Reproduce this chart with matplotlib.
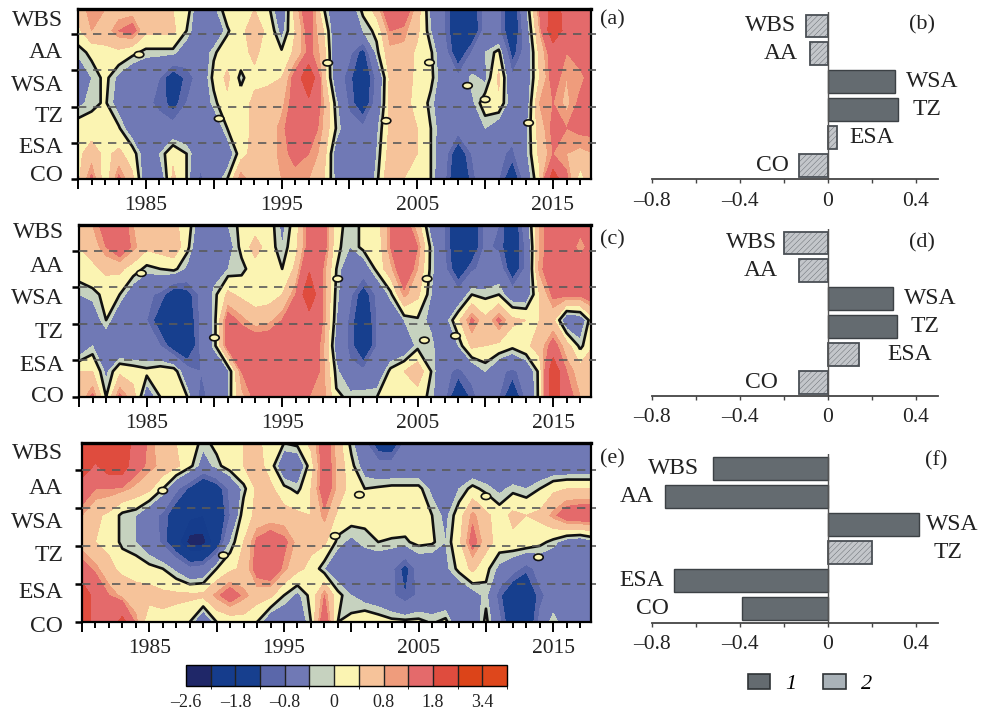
import matplotlib
matplotlib.use('Agg')
import matplotlib.pyplot as plt
import numpy as np
from matplotlib.colors import ListedColormap, BoundaryNorm
from matplotlib.patches import Ellipse, Patch

plt.rcParams['font.family'] = ['Liberation Serif', 'DejaVu Serif']
plt.rcParams['hatch.linewidth'] = 0.25

W, H = 982, 711

years = np.arange(1980, 2019)
row_y = [0, 0.7, 1.4, 2.1, 2.8, 3.5, 4.1, 4.7]
regions = ['WBS', 'AA', 'WSA', 'TZ', 'ESA', 'CO']

levels = [-2.6, -2.2, -1.8, -1.1, -0.8, -0.2, 0, 0.4, 0.8, 1.0, 1.8, 2.6, 3.4, 4.2]
level_colors = ['#1f2768', '#153c8c', '#173f8e', '#5a67aa', '#7079b5', '#c6d2bf', '#fbf4b2',
                '#f6c39a', '#ef9c7c', '#e46a6b', '#df4c3e', '#dc4419', '#de471c']
cbar_ticks = [-2.6, -1.8, -0.8, 0, 0.8, 1.8, 3.4]
cbar_labels = ['\u20132.6', '\u20131.8', '\u20130.8', '0', '0.8', '1.8', '3.4']

# rows go from CO (bottom) to the top of the panel
grid_a = [
    [.3,1.1,.1,1.1,.5,-.5,-.6,.5,0,-.9,-.5,0,1.0,.5,.6,.8,.9,.8,.5,-.3,-.3,-.7,-.1,.8,.4,.2,0,-.7,-1.7,-1.0,-.3,-.8,-1.6,-.5,.3,2.3,1.1,.2,.8],
    [.3,.6,.3,.5,.2,-.5,-.2,.3,0,-.6,-.6,-.5,.2,.6,.6,.9,1.1,1.0,.7,-.4,-.6,-.6,-.2,.6,.6,.4,0,-.6,-1.5,-.8,-.3,-.7,-.9,-.3,.5,1.0,.8,.7,.8],
    [.2,.2,.2,.05,-.5,-.6,-.6,-.6,-.6,-.6,-.6,0,.2,.5,.6,.9,1.3,1.4,.8,0,-.6,-.7,-.3,.5,.6,.4,0,-.5,-.6,-.5,-.2,-.5,-.6,-.3,.6,1.1,1.0,1.1,1.1],
    [-.3,-.1,.05,-.4,-.6,-.7,-.9,-1.3,-.8,-.6,-.1,.3,.2,.5,.6,.7,1.2,1.6,.9,-.1,-.9,-1.5,-.6,.5,.5,.3,-.1,-.6,-.6,-.3,.2,.3,-.5,-.5,.8,1.0,.7,1.1,1.2],
    [-.5,-.2,.1,-.3,-.6,-.6,-.8,-1.5,-1.0,-.6,.1,.5,-.1,.3,.3,.4,1.2,2.6,.7,-.5,-1.0,-1.6,-.7,.5,.6,.3,.1,-.5,-.7,-.1,-.3,.5,-.7,-.5,.4,1.2,.8,.9,1.2],
    [-.15,.1,.3,.3,.1,-.1,-.1,-.1,-.5,-.6,-.05,.2,.25,.5,.2,.05,.5,1.1,.7,-.6,-.7,-1.3,-.1,.7,.7,.3,.05,-.6,-1.5,-.8,-.2,.1,-1.3,-.6,.5,1.3,1.0,1.2,1.2],
    [.3,.8,.6,1.0,1.2,.5,.5,.5,0,-.6,-.7,-.05,.3,.6,.3,-.35,.4,1.2,.5,-.6,-.6,-.2,.1,1.0,.9,.5,-.2,-.8,-1.6,-1.6,-.6,-.7,-1.6,-.5,.8,2.4,1.5,1.0,1.2],
    [.5,1.0,.8,.6,.6,.6,.5,.4,.2,-.6,-.3,.2,.2,.4,.1,-.6,.6,1.4,.1,-.6,-.5,.1,.6,1.5,1.4,.6,-.3,-.8,-1.6,-1.5,-.6,-.7,-1.6,-.3,1.0,2.2,1.5,1.4,1.4],
]
grid_c = [
    [.5,1.1,0,1.1,.6,-.5,0,.2,0,-1.0,-.5,-.2,.7,1.1,1.0,1.1,1.2,1.0,1.0,.05,-.05,-.03,0,.2,.4,.2,-.1,-.7,-1.7,-1.0,-.4,-.8,-1.6,-.7,.1,2.4,1.2,.8,.8],
    [.4,.4,-.3,.3,.2,.1,.2,.2,-.6,-.8,-.7,-.3,1.0,1.3,1.3,1.4,1.4,1.3,.9,-.1,-.7,-.7,-.6,.1,.4,.7,0,-.7,-.9,-.6,-.2,-.7,-.9,-.6,.1,2.5,1.0,.6,.5],
    [-.6,-.2,-.6,-.7,-.7,-.7,-.8,-1.4,-1.7,-.7,-.1,1.2,1.4,1.4,1.4,1.5,1.4,1.3,.9,-.4,-.9,-1.7,-.8,-.7,-.6,-.1,-.1,-.6,-.2,.5,.4,.3,.1,.3,.6,1.2,.6,-.1,.4],
    [-.7,-.5,0,-.6,-.7,-.8,-1.4,-1.8,-1.5,-.7,-.1,1.2,.9,.6,.7,1.0,1.3,1.4,1.0,-.2,-.9,-1.6,-.8,-.6,-.2,-.05,-.3,-.4,.3,1.1,.5,1.1,.5,.4,.4,.5,-.6,-.5,.3],
    [-.2,-.1,.1,0,-.5,-.7,-.9,-1.5,-1.3,-.7,-.1,.5,.3,.2,.2,.4,1.0,2.5,1.0,-.1,-.7,-1.4,-.7,-.1,.9,.5,-.2,-.7,-.6,0,-.1,0,-.5,-.5,.4,1.1,1.1,1.1,1.3],
    [.2,.3,.5,.5,.2,-.1,0,.1,-.3,-.6,-.4,-.2,-.1,.2,.3,0,.5,1.7,1.0,0,-.6,-.5,.1,.7,1.4,.8,-.1,-.7,-1.5,-.9,-.6,-.5,-1.5,-.7,.9,1.3,1.3,1.4,1.3],
    [.4,.6,1.0,1.4,.9,.5,.6,.7,.1,-.7,-.6,-.4,.1,.6,.2,-.2,.3,1.2,1.3,.1,-.2,.1,.1,1.0,1.4,1.0,-.1,-.8,-1.6,-1.5,-.7,-.9,-1.6,-.7,.8,1.3,1.4,.8,1.3],
    [.5,.8,1.2,1.3,.8,.6,.6,.5,.2,-.5,-.6,-.2,.1,.2,.2,-.3,.2,1.2,1.3,.2,-.2,.1,.2,1.0,1.3,.6,-.4,-.8,-1.6,-1.5,-.7,-.8,-1.6,-.5,.8,1.3,1.3,1.2,1.2],
]
grid_e = [
    [2.4,1.4,1.2,2.1,.9,.05,.3,.2,0,-.7,0,.1,.2,0,-.6,-.6,-.6,0,1.4,0,.1,.3,.2,.1,.1,.1,-.05,.1,-.6,-.6,.1,-.7,-1.6,-1.6,-.7,0,-.6,-.6,-.6],
    [2.4,1.5,1.0,.7,.6,.6,.5,.5,.5,.5,.9,1.3,.9,.6,.5,0,-.3,.1,1.0,.1,-.2,-.4,-.5,-.7,-1.1,-.7,-.6,-.6,-.6,-.4,-.1,-1.0,-1.7,-1.8,-.9,-.6,-.6,-.6,-.6],
    [1.2,.9,.5,.3,.2,.1,0,-.3,-.7,-.6,0,.3,.5,1.2,1.4,.9,.5,.3,-.2,-.5,-.6,-.6,-.6,-.7,-1.3,-.6,-.6,-.3,.1,.5,.1,-.3,-.6,-1.0,-.6,-.6,-.6,-.6,-.6],
    [.6,.4,.3,-.1,-.2,-.5,-.9,-1.6,-2.4,-2.4,-1.5,-.2,.4,1.1,1.3,1.1,.7,.5,.5,-.1,-.3,-.1,0,-.05,-.05,.1,.05,-.2,.3,1.2,.6,.2,.3,.3,.1,-.1,-.4,-.5,-.3],
    [.8,.5,.3,-.1,-.2,-.6,-.9,-1.5,-1.7,-1.8,-1.6,-.8,.2,.5,.6,.6,.5,.4,.9,.3,.2,.1,.2,.3,.2,.4,0,-.3,.2,.9,.5,.2,.5,.4,.5,.9,1.3,1.4,1.4],
    [1.3,1.0,1.0,.9,.7,.5,0,-.7,-1.2,-1.7,-1.4,-.7,-.1,.5,.5,.1,-.1,.4,1.3,.7,.2,0,.05,.1,.1,.1,-.3,-.6,-.2,.1,-.1,-.3,-.1,-.2,0,.3,.4,.4,.4],
    [2.3,1.7,2.3,2.3,1.2,.9,.7,.5,.1,-.4,-.1,.2,.4,.6,.2,-.6,-.6,.2,1.3,.7,.1,-.4,-.6,-.6,-.6,-.6,-.6,-.6,-.6,-.6,-.6,-.6,-.7,-.6,-.6,-.6,-.6,-.6,-.6],
    [2.4,2.4,2.3,2.4,1.4,.9,.6,.4,.2,-.1,.1,.2,.4,.5,.2,0,.1,.5,1.3,.6,-.1,-.7,-1.4,-1.5,-.7,-.6,-.6,-.6,-.6,-.6,-.6,-.6,-.6,-.6,-.6,-.6,-.6,-.5,-.1],
]

# zero-contour label ovals
ovals_a = [(1984.5,3.44),(1998.4,3.21),(2005.9,3.22),(2008.7,2.58),(2010,2.2),(1990.4,1.67),(2002.7,1.61),(2013.2,1.55)]
ovals_c = [(1984.6,3.38),(1999.1,3.23),(2005.7,3.23),(1990,1.62),(2005.5,1.55),(2007.8,1.67)]
ovals_e = [(1986,3.45),(2000.6,3.34),(2010,3.3),(1998.8,2.26),(1990.5,1.75),(2013.9,1.7)]

# bar values, same order as regions; kind 1 = significant, 2 = not
bars_b = [-0.10, -0.08, 0.305, 0.32, 0.04, -0.13]
kind_b = [2, 2, 1, 1, 2, 2]
gaps_b = [10, 12, 11, 14, 13, 10]
bars_d = [-0.20, -0.13, 0.295, 0.315, 0.14, -0.13]
kind_d = [2, 2, 1, 1, 2, 2]
gaps_d = [7, 21, 11, 14, 29, 21]
bars_f = [-0.52, -0.74, 0.415, 0.20, -0.70, -0.39]
kind_f = [1, 1, 1, 2, 1, 1]
gaps_f = [14, 11, 7, 62, 10, 73]

cmap = ListedColormap(level_colors)
norm = BoundaryNorm(levels, cmap.N)


def px_axes(left, top, right, bottom):
    return fig.add_axes([left / W, 1 - bottom / H, (right - left) / W, (bottom - top) / H])


def heat_panel(box, grid, ovals, label_y, label_x):
    ax = px_axes(*box)
    cs = ax.contourf(years, row_y, np.array(grid), levels=levels, cmap=cmap, norm=norm)
    ax.contour(years, row_y, np.array(grid), levels=[0], colors='#111111', linewidths=1.9)
    ax.hlines([1, 2, 3, 4], 1980, 2018.2, colors='#5a5a5a', linestyles=(0, (5, 4)), linewidth=1.2,
              clip_on=False, zorder=5)
    for ox, oy in ovals:
        ax.add_patch(Ellipse((ox, oy), 0.7, 0.17, facecolor='#fbf4b2', edgecolor='#111111', lw=1.2, zorder=6))
    ax.set_xlim(1980, 2017.8)
    ax.set_ylim(0, 4.7)
    ticks = np.arange(1980, 2018, 5)
    ax.set_xticks(ticks)
    ax.set_xticks(np.arange(1980, 2018), minor=True)
    ax.set_xticklabels([str(y) if y % 10 == 5 else '' for y in ticks], fontsize=15.5, color='#222222')
    ax.tick_params(axis='x', which='major', length=7, width=1.4, pad=5)
    ax.tick_params(axis='x', which='minor', length=4, width=1.4)
    ax.set_yticks([0, 1, 2, 3, 4])
    ax.set_yticklabels([])
    ax.tick_params(axis='y', length=5, width=1.8)
    for name, yy in zip(regions, label_y):
        ax.text(label_x, yy, name, transform=ax.get_yaxis_transform(), ha='right', va='center',
                fontsize=17, color='#222222', clip_on=False)
    for s in ax.spines.values():
        s.set_linewidth(1.6)
    ax.spines['top'].set_linewidth(2.4)
    return cs


def bar_panel(box, vals, kinds, gaps):
    ax = px_axes(*box)
    pos = np.arange(len(vals))[::-1]
    for p, v, k, g, name in zip(pos, vals, kinds, gaps, regions):
        if k == 1:
            ax.barh(p, v, height=0.82, color='#646b70', edgecolor='#3c4145', linewidth=1.0)
        else:
            ax.barh(p, v, height=0.82, color='#c3c6ca', edgecolor='#4a4f55', linewidth=1.3, hatch='//////')
        off = g * 0.72 if v > 0 else -g * 0.72
        ax.annotate(name, (v, p), xytext=(off, 0), textcoords='offset points', va='center',
                    ha='left' if v > 0 else 'right', fontsize=17, color='#222222')
    ax.axvline(0, color='#555555', lw=1.0)
    ax.set_xlim(-0.8, 0.5)
    ax.set_ylim(-0.49, 5.5)
    for s in ['top', 'left', 'right']:
        ax.spines[s].set_visible(False)
    ax.spines['bottom'].set_color('#444444')
    ax.spines['bottom'].set_linewidth(1.3)
    ax.set_yticks([])
    ax.set_xticks([-0.8, -0.6, -0.4, -0.2, 0, 0.2, 0.4])
    ax.set_xticklabels(['\u20130.8', '', '\u20130.4', '', '0', '', '0.4'], fontsize=15.5, color='#222222')
    ax.tick_params(axis='x', length=3, width=1.0, color='#444444', pad=6)
    ax.patch.set_alpha(0)
    return ax


fig = plt.figure(figsize=(W / 100, H / 100), dpi=100)

cs = heat_panel((78, 9, 591, 179), grid_a, ovals_a, [4.39, 3.5, 2.58, 1.72, .86, .1], -0.029)
heat_panel((79, 225, 591, 397), grid_c, ovals_c, [4.5, 3.56, 2.68, 1.77, .86, 0], -0.03)
heat_panel((82, 443, 591, 622), grid_e, ovals_e, [4.43, 3.5, 2.62, 1.74, .77, -.13], -0.037)

bar_panel((651.7, 12, 937.7, 179), bars_b, kind_b, gaps_b)
bar_panel((651.7, 229, 937.7, 396), bars_d, kind_d, gaps_d)
bar_panel((651.7, 454, 937.7, 622.5), bars_f, kind_f, gaps_f)

for txt, x, y in [('(a)', 600, 20), ('(c)', 600, 240), ('(e)', 600, 459),
                  ('(b)', 909, 25), ('(d)', 909, 243), ('(f)', 925, 461)]:
    fig.text(x / W, 1 - y / H, txt, fontsize=16, va='center', color='#222222')

cax = px_axes(186, 665, 507, 686)
cb = fig.colorbar(cs, cax=cax, orientation='horizontal', spacing='uniform', drawedges=True,
                  ticks=cbar_ticks)
cb.ax.set_xticklabels(cbar_labels, fontsize=13, color='#222222')
cb.ax.tick_params(length=0, pad=6)
cb.dividers.set_color('#222222')
cb.dividers.set_linewidth(1.0)
cb.outline.set_linewidth(1.0)

handles = [Patch(facecolor='#646b70', edgecolor='#2f3336', lw=1.2),
           Patch(facecolor='#a9b2b8', edgecolor='#2f3336', lw=1.2)]
fig.legend(handles, ['1', '2'], ncol=2, loc='center', bbox_to_anchor=(810 / W, 1 - 684 / H), frameon=False,
           prop={'family': 'Liberation Serif', 'style': 'italic', 'size': 16},
           handlelength=1.0, handleheight=0.7, handletextpad=0.7, columnspacing=1.2)

fig.savefig('out.png', dpi=100)
